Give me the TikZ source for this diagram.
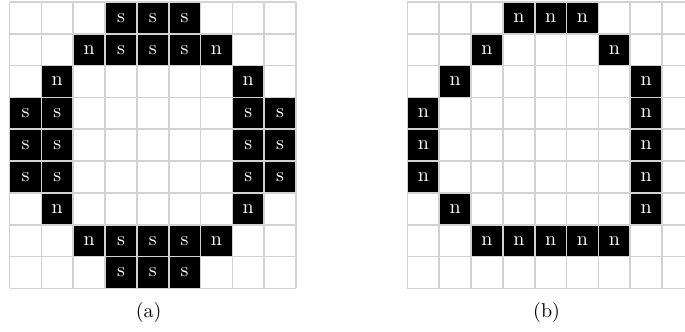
\documentclass[tikz,border=0pt]{standalone}
\usepackage{tikz}
\tikzset{
  cellgrid/.style={step=1, gray!35, line width=0.8pt},
  pixlabel/.style={text=white, inner sep=0pt},
}
\begin{document}
\begin{tikzpicture}
\useasboundingbox (-0.168,-0.750) rectangle (11.883,5.074);
\begin{scope}[xscale=0.56,yscale=0.56]
\foreach \col/\row/\txt in {3/0/s,4/0/s,5/0/s,
  2/1/n,3/1/s,4/1/s,5/1/s,6/1/n,
  1/2/n,7/2/n,
  0/3/s,1/3/s,7/3/s,8/3/s,
  0/4/s,1/4/s,7/4/s,8/4/s,
  0/5/s,1/5/s,7/5/s,8/5/s,
  1/6/n,7/6/n,
  2/7/n,3/7/s,4/7/s,5/7/s,6/7/n,
  3/8/s,4/8/s,5/8/s} {
  \fill[black] (\col,8-\row) rectangle ++(1,1);
  \node[pixlabel] (a-\col-\row) at (\col+0.5,8.5-\row) {\txt};
}
\draw[cellgrid] (0,0) grid (9,9);
\node (capa) at (4.37,-0.76) {(a)};
\end{scope}
\begin{scope}[xscale=0.56,yscale=0.56, shift={(12.5,0)}]
\foreach \col/\row in {3/0,4/0,5/0,
  2/1,6/1,
  1/2,7/2,
  0/3,7/3,
  0/4,7/4,
  0/5,7/5,
  1/6,7/6,
  2/7,3/7,4/7,5/7,6/7} {
  \fill[black] (\col,8-\row) rectangle ++(1,1);
  \node[pixlabel] (b-\col-\row) at (\col+0.5,8.5-\row) {n};
}
\draw[cellgrid] (0,0) grid (9,9);
\node (capb) at (4.37,-0.76) {(b)};
\end{scope}
\end{tikzpicture}
\end{document}
